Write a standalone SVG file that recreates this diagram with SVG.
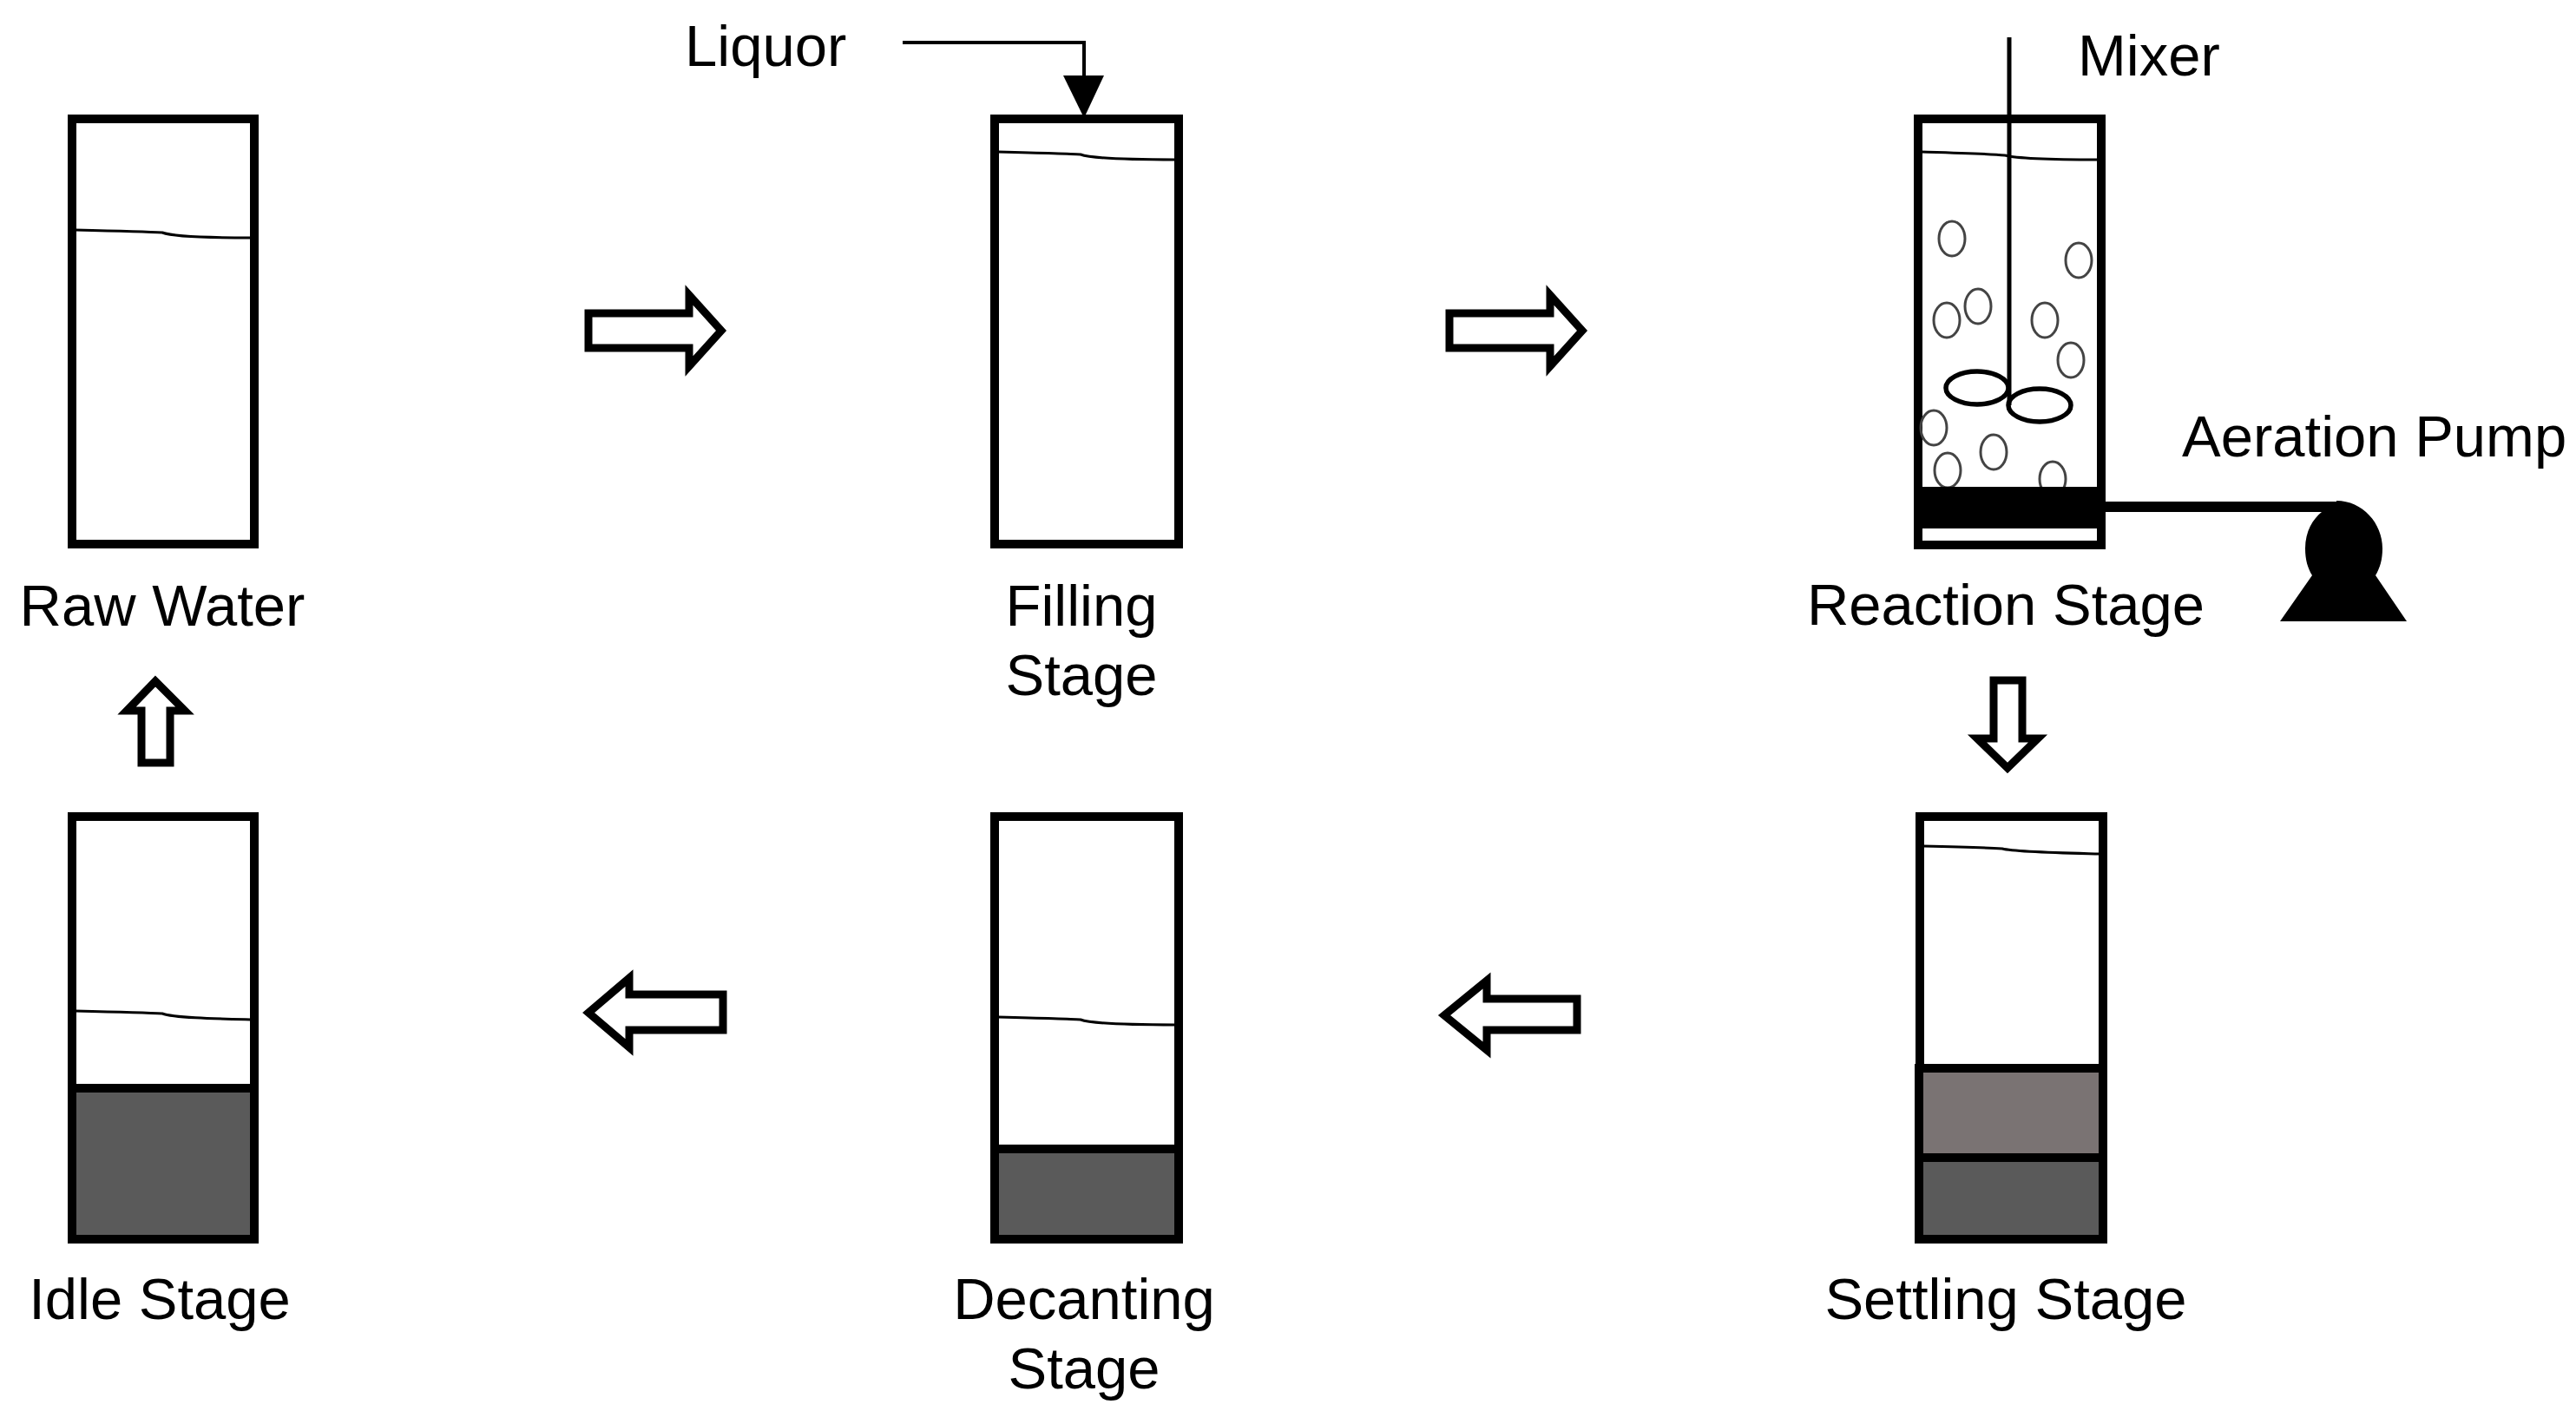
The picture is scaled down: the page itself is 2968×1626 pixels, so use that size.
<svg xmlns="http://www.w3.org/2000/svg" width="2968" height="1626" viewBox="0 0 2968 1626">
<style>
text{font-family:"Liberation Sans",Arial,sans-serif;font-size:67px;fill:#000}
.m{text-anchor:middle}
.tank{fill:none;stroke:#000;stroke-width:10}
.wl{fill:none;stroke:#000;stroke-width:3}
.arr{fill:#fff;stroke:#000;stroke-width:9;stroke-miterlimit:10}
.dark{fill:#5a5a5a;stroke:#000;stroke-width:10}
.mid{fill:#7a7373;stroke:#000;stroke-width:10}
.bub{fill:none;stroke:#444;stroke-width:3}
.pad{fill:none;stroke:#000;stroke-width:5.5}
</style>
<rect width="2968" height="1626" fill="#fff"/>
<g id="raw-water">
<rect class="tank" x="83" y="137" width="210" height="490"/>
<path class="wl" d="M87 265 C130 266 170 267 187 268 C200 273 250 274 289 274"/>
<text class="m" x="187" y="721">Raw Water</text>
</g>
<g id="filling-stage">
<rect class="tank" x="1146" y="137" width="212" height="490"/>
<path class="wl" d="M1150 175 C1190 176 1230 177 1245 178 C1258 183 1310 184 1354 184"/>
<text class="m" x="1246" y="721">Filling</text>
<text class="m" x="1246" y="801">Stage</text>
<text id="liquor-label" x="789" y="76">Liquor</text>
</g>
<g id="reaction-stage">
<rect class="tank" x="2210" y="137" width="211" height="491"/>
<path class="wl" d="M2214 175 C2250 176 2290 177 2310 179 C2325 183 2380 184 2417 184"/>
<ellipse class="bub" cx="2249" cy="275" rx="15" ry="20"/>
<ellipse class="bub" cx="2395" cy="300" rx="15" ry="20"/>
<ellipse class="bub" cx="2243" cy="369" rx="15" ry="20"/>
<ellipse class="bub" cx="2279" cy="353" rx="15" ry="20"/>
<ellipse class="bub" cx="2356" cy="369" rx="15" ry="20"/>
<ellipse class="bub" cx="2386" cy="415" rx="15" ry="20"/>
<ellipse class="bub" cx="2228" cy="493" rx="15" ry="20"/>
<ellipse class="bub" cx="2297" cy="521" rx="15" ry="20"/>
<ellipse class="bub" cx="2244" cy="542" rx="15" ry="20"/>
<ellipse class="bub" cx="2365" cy="552" rx="15" ry="20"/>
<rect x="2206" y="561" width="218" height="48" fill="#000"/>
<path d="M2315 43V467" fill="none" stroke="#000" stroke-width="5"/>
<ellipse class="pad" cx="2278" cy="447" rx="36" ry="19"/>
<ellipse class="pad" cx="2350" cy="467" rx="36" ry="19"/>
<text x="2394" y="87">Mixer</text>
<text class="m" x="2311" y="720">Reaction Stage</text>
</g>
<g id="aeration-pump">
<path d="M2692 577C2722 577 2745 603 2745 632C2745 645 2742 655 2737 663L2773 716H2627L2664 663C2659 655 2656 645 2656 632C2656 612 2665 598 2675 590H2692Z" fill="#000"/>
<text x="2514" y="526">Aeration Pump</text>
</g>
<g id="settling-stage">
<rect class="tank" x="2212" y="941" width="211" height="487"/>
<path class="wl" d="M2216 975 C2260 976 2290 977 2307 978 C2322 982 2380 983 2419 984"/>
<rect class="mid" x="2211" y="1231" width="212" height="103"/>
<rect class="dark" x="2211" y="1334" width="212" height="94"/>
<text class="m" x="2311" y="1520">Settling Stage</text>
</g>
<g id="decanting-stage">
<rect class="tank" x="1146" y="941" width="212" height="487"/>
<path class="wl" d="M1150 1172 C1190 1173 1230 1174 1245 1175 C1258 1180 1310 1181 1354 1181"/>
<rect class="dark" x="1146" y="1324" width="212" height="104"/>
<text class="m" x="1249" y="1520">Decanting</text>
<text class="m" x="1249" y="1600">Stage</text>
</g>
<g id="idle-stage">
<rect class="tank" x="83" y="941" width="210" height="487"/>
<path class="wl" d="M87 1165 C130 1166 170 1167 187 1168 C200 1173 250 1174 289 1175"/>
<rect class="dark" x="83" y="1254" width="210" height="174"/>
<text class="m" x="184" y="1520">Idle Stage</text>
</g>
<g id="connectors">
<path d="M1040 49H1249V90" fill="none" stroke="#000" stroke-width="4"/>
<polygon points="1225,87 1272,87 1249,136" fill="#000"/>
<rect x="2424" y="578" width="270" height="12" fill="#000"/>
<polygon class="arr" points="678,361 794,361 794,340 831,381 794,422 794,401 678,401"/>
<polygon class="arr" points="1670,361 1786,361 1786,340 1823,381 1786,422 1786,401 1670,401"/>
<polygon class="arr" points="2297,784 2330,784 2330,851 2348,851 2313,885 2278,851 2297,851"/>
<polygon class="arr" points="1817,1151 1713,1151 1713,1130 1664,1170 1713,1210 1713,1187 1817,1187"/>
<polygon class="arr" points="833,1146 725,1146 725,1127 678,1167 725,1207 725,1187 833,1187"/>
<polygon class="arr" points="163,879 196,879 196,819 213,819 179,785 146,819 163,819"/>
</g>
</svg>
